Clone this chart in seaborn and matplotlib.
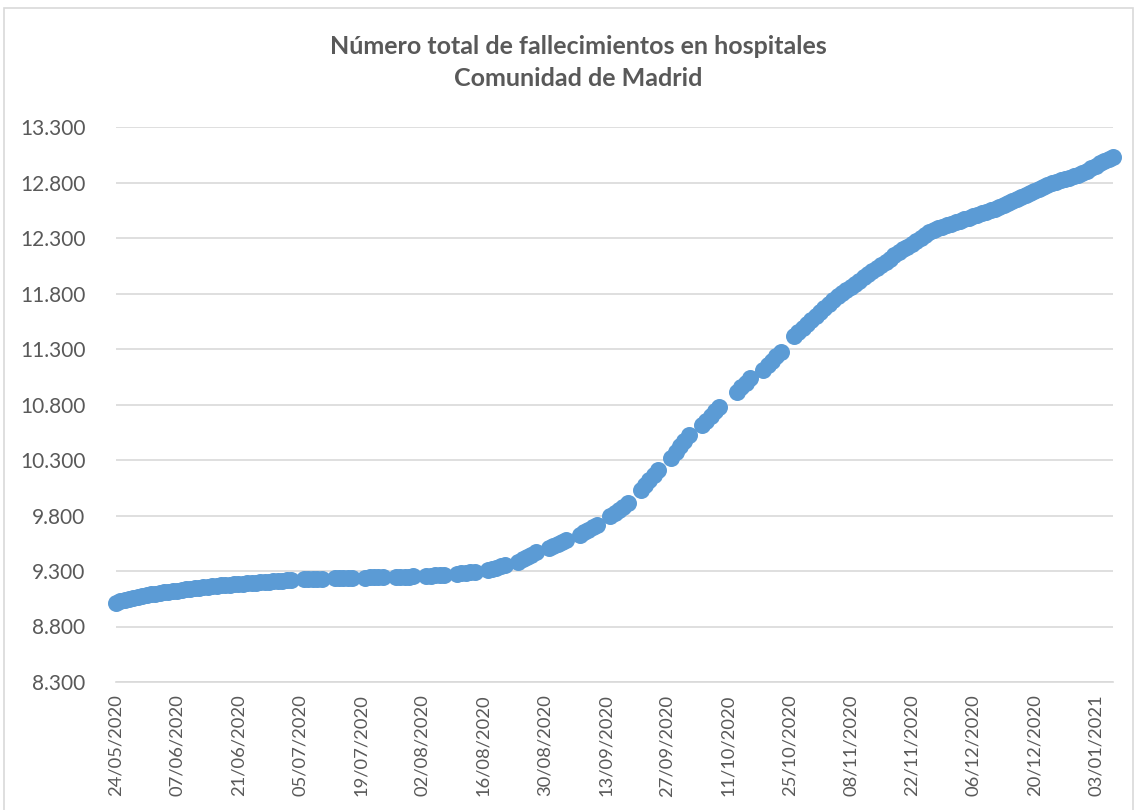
import matplotlib
matplotlib.use("Agg")
import matplotlib.pyplot as plt
import matplotlib.dates as mdates
from matplotlib.patches import Rectangle
import seaborn as sns
import pandas as pd

# ---------------- data ----------------
# Period 1: daily reports 24/05/2020 - 03/07/2020
dates_daily_1 = pd.date_range("2020-05-24", "2020-07-03", freq="D")
values_daily_1 = [
    9012, 9026, 9038, 9049, 9059, 9068, 9076, 9083, 9090, 9096,
    9102, 9108, 9114, 9119, 9124, 9129, 9134, 9139, 9144, 9149,
    9154, 9158, 9162, 9166, 9170, 9174, 9177, 9180, 9183, 9186,
    9189, 9192, 9195, 9198, 9201, 9204, 9207, 9210, 9213, 9216,
    9218,
]

# Period 2: weekday reports 06/07/2020 - 23/10/2020 (no report on 12/10 holiday)
dates_weekdays = [d for d in pd.bdate_range("2020-07-06", "2020-10-23")
                  if d != pd.Timestamp("2020-10-12")]
values_weekdays = [
    9224, 9226, 9228, 9230, 9232,
    9235, 9236, 9237, 9238, 9239,
    9241, 9242, 9243, 9244, 9245,
    9247, 9248, 9249, 9250, 9251,
    9256, 9259, 9262, 9265, 9268,
    9276, 9280, 9284, 9288, 9292,
    9305, 9316, 9328, 9341, 9356,
    9385, 9405, 9425, 9447, 9468,
    9505, 9522, 9540, 9560, 9580,
    9625, 9648, 9670, 9692, 9715,
    9800, 9825, 9852, 9880, 9910,
    10030, 10075, 10120, 10165, 10210,
    10320, 10370, 10422, 10474, 10525,
    10615, 10655, 10695, 10737, 10777,
    10913, 10955, 10997, 11039,
    11115, 11155, 11195, 11235, 11273,
]

# Period 3: daily reports 26/10/2020 - 07/01/2021
dates_daily_2 = pd.date_range("2020-10-26", "2021-01-07", freq="D")
values_daily_2 = [
    11420, 11456, 11491, 11527, 11562, 11598, 11633, 11669, 11704, 11740,
    11775, 11803, 11831, 11860, 11888, 11916, 11945, 11973, 12001, 12029,
    12058, 12086, 12114, 12143, 12171, 12197, 12223, 12249, 12275, 12301,
    12327, 12353, 12375, 12388, 12402, 12415, 12429, 12442, 12456, 12469,
    12483, 12496, 12510, 12523, 12537, 12550, 12564, 12579, 12597, 12615,
    12634, 12652, 12670, 12689, 12707, 12725, 12744, 12762, 12780, 12793,
    12806, 12819, 12832, 12845, 12858, 12871, 12886, 12908, 12930, 12952,
    12974, 12996, 13013, 13030,
]

y_ticks = [8300, 8800, 9300, 9800, 10300, 10800, 11300, 11800, 12300, 12800, 13300]
x_ticks = pd.date_range("2020-05-24", "2021-01-03", freq="14D")
title_lines = ["Número total de fallecimientos en hospitales", "Comunidad de Madrid"]

df = pd.DataFrame({
    "fecha": list(dates_daily_1) + list(dates_weekdays) + list(dates_daily_2),
    "fallecimientos": values_daily_1 + values_weekdays + values_daily_2,
})

# ---------------- style ----------------
sns.set_style("white")
plt.rcParams["font.family"] = ["Lato", "DejaVu Sans"]

TEXT = "#595959"
GRID = "#D9D9D9"
BLUE = "#5B9BD5"

fig = plt.figure(figsize=(11.37, 8.10), dpi=100)
ax = fig.add_axes([116 / 1137, 1 - 682 / 810, (1113 - 116) / 1137, (682 - 127) / 810])

sns.scatterplot(data=df, x="fecha", y="fallecimientos", ax=ax, color=BLUE,
                s=150, linewidth=0, edgecolor=BLUE, clip_on=False, zorder=3,
                legend=False)

ax.set_ylim(8300, 13300)
ax.set_xlim(pd.Timestamp("2020-05-24"), pd.Timestamp("2021-01-07"))

ax.set_yticks(y_ticks)
ax.set_yticklabels([f"{v:,}".replace(",", ".") for v in y_ticks])
ax.set_xticks(x_ticks)
ax.xaxis.set_major_formatter(mdates.DateFormatter("%d/%m/%Y"))

ax.grid(axis="y", color=GRID, linewidth=1.2, zorder=0)
ax.grid(axis="x", visible=False)
ax.set_axisbelow(True)

for side in ["top", "right", "left"]:
    ax.spines[side].set_visible(False)
ax.spines["bottom"].set_color(GRID)
ax.spines["bottom"].set_linewidth(1.2)

ax.tick_params(axis="x", direction="out", length=6, width=1.2, color=GRID,
               labelcolor=TEXT, labelsize=13.2, rotation=90, pad=3)
ax.tick_params(axis="y", length=0, labelcolor=TEXT, labelsize=15, pad=22)

ax.set_xlabel("")
ax.set_ylabel("")

fig.text(578 / 1137, 1 - 46 / 810, title_lines[0], ha="center", va="center",
         fontsize=18, fontweight="bold", color=TEXT)
fig.text(578 / 1137, 1 - 79 / 810, title_lines[1], ha="center", va="center",
         fontsize=18, fontweight="bold", color=TEXT)

fig.patches.append(Rectangle((4 / 1137, -0.01), (1133 - 4) / 1137, 1.01 - 8 / 810,
                             transform=fig.transFigure, fill=False,
                             edgecolor=GRID, linewidth=1.2))

fig.savefig("out.png", dpi=100)
